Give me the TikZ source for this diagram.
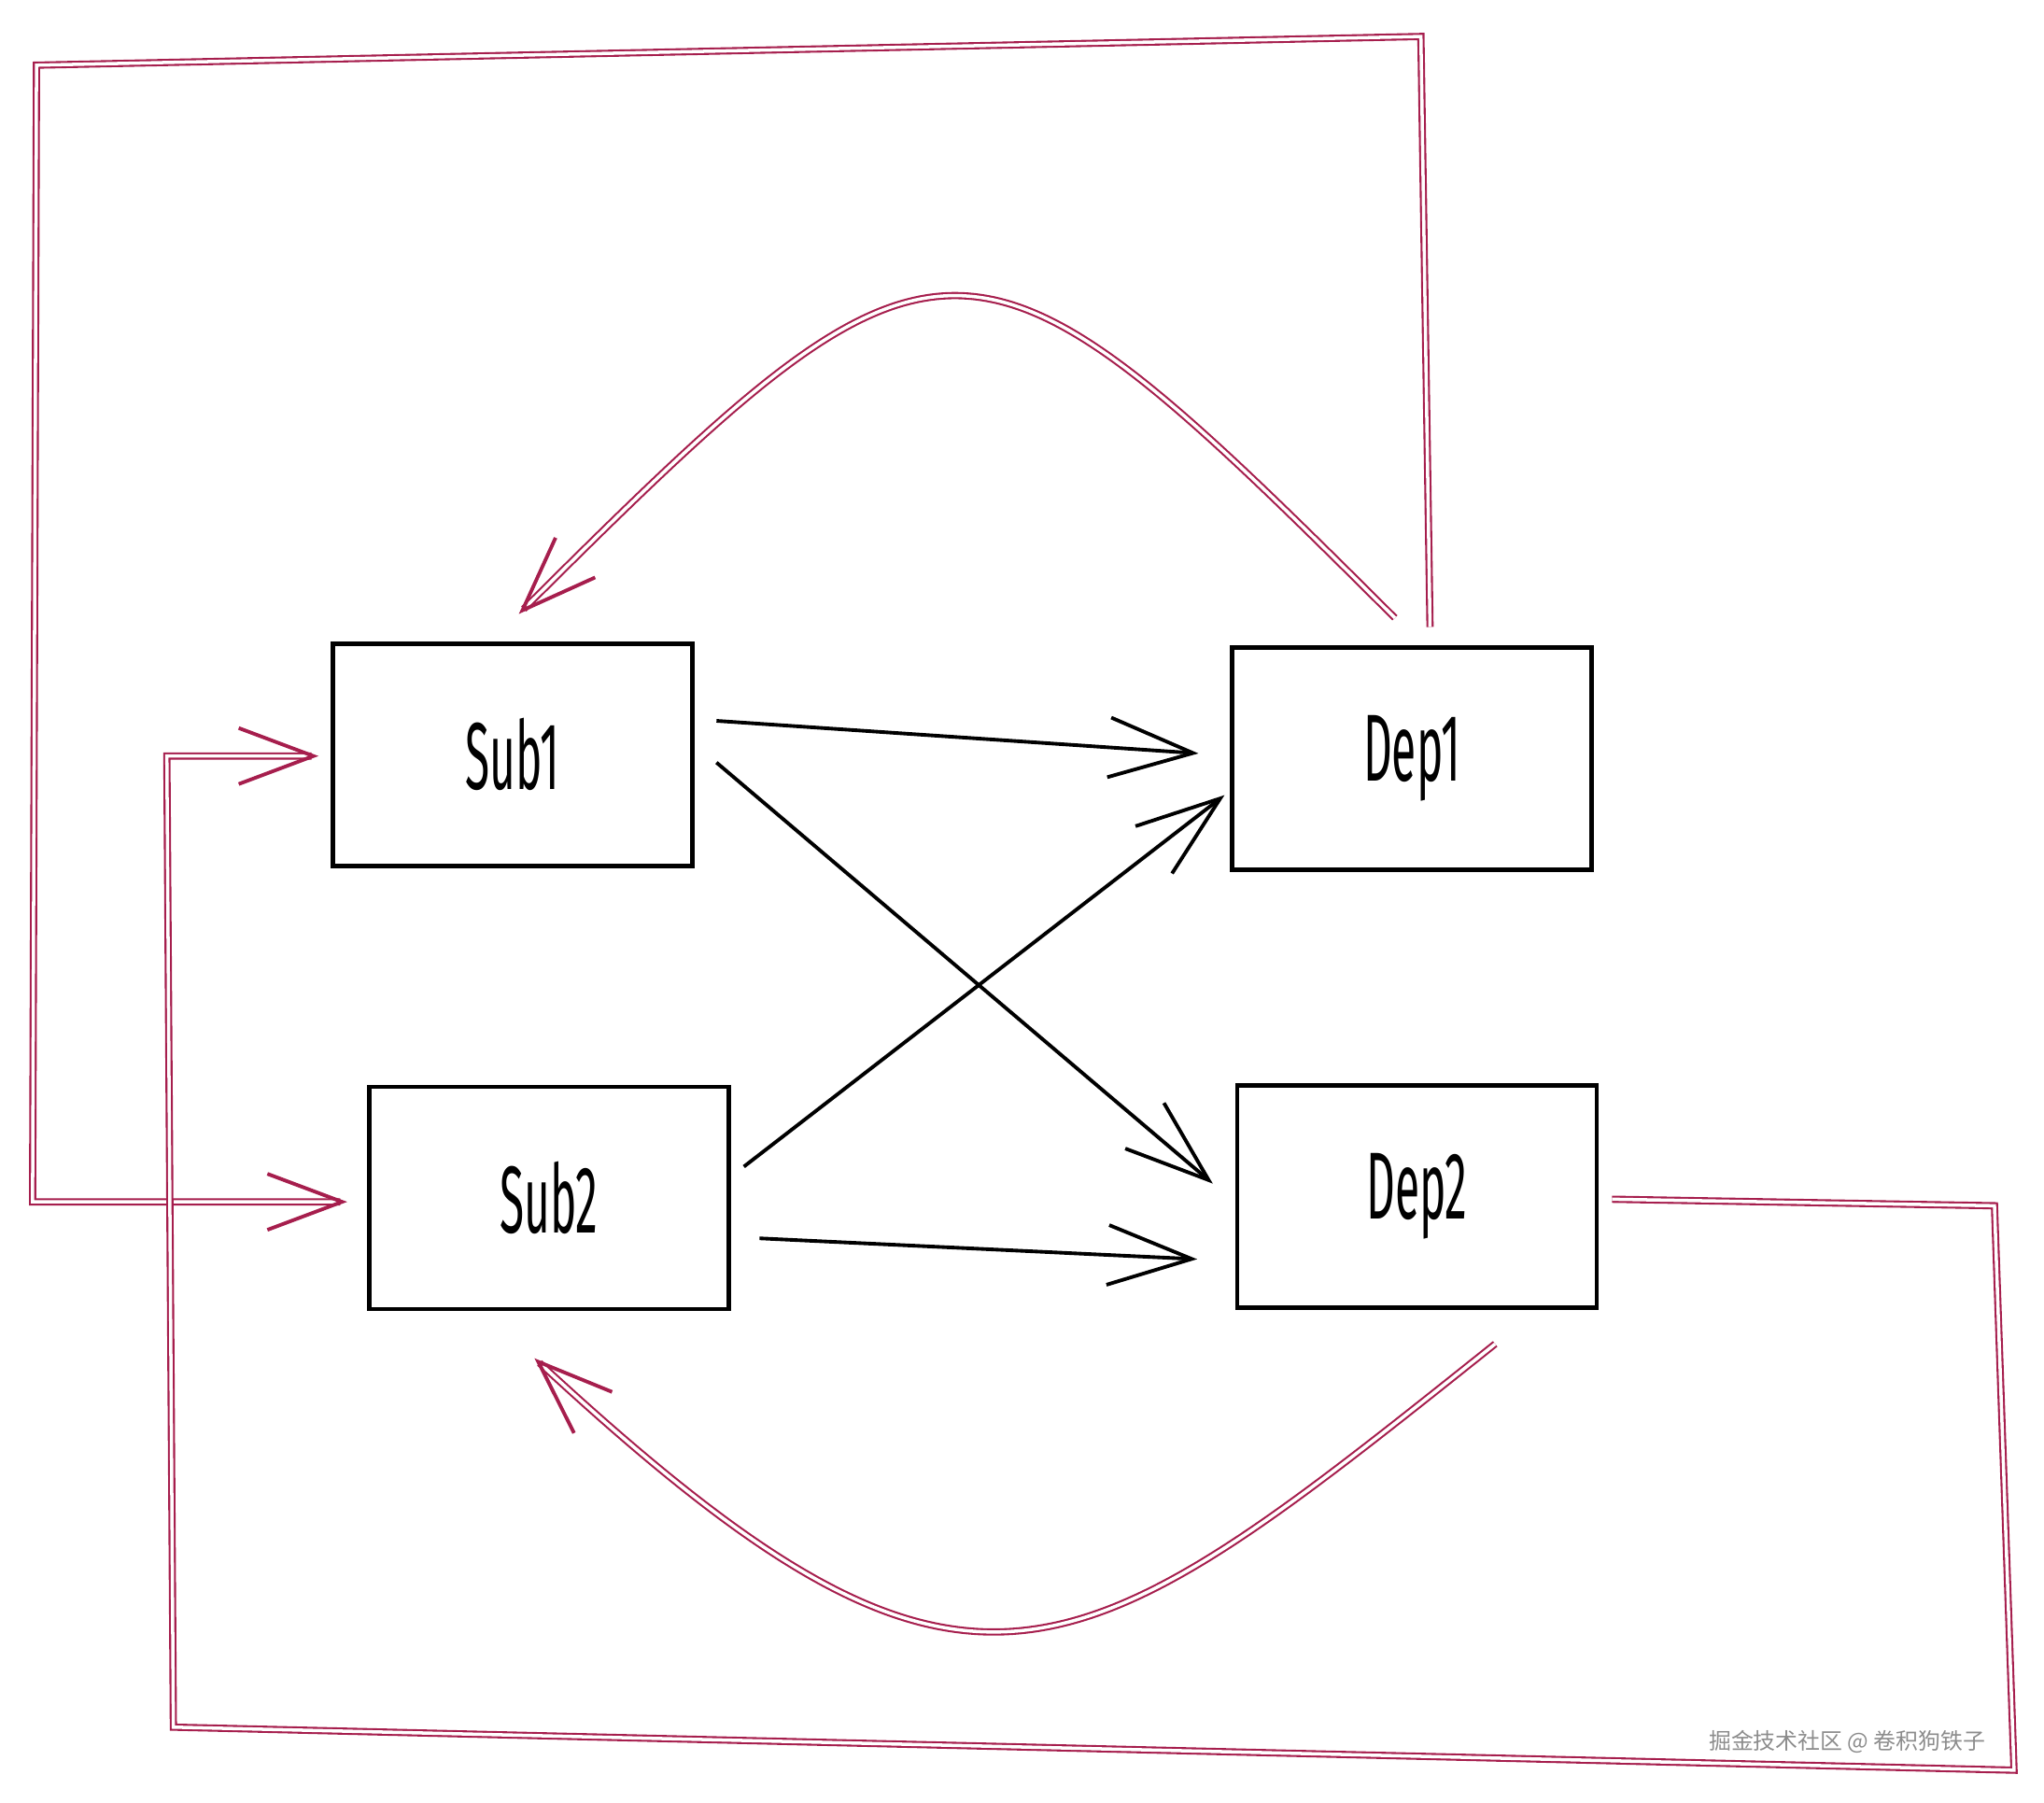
\documentclass[tikz,border=0pt]{standalone}
\usepackage{fontspec}
\newfontfamily\handfont[FakeStretch=0.47]{Fira Sans}
\newfontfamily\cjkfont{Noto Sans CJK SC}
\usetikzlibrary{arrows.meta}

\definecolor{ruby}{RGB}{166,30,77}

\tikzset{
    box/.style={draw, line width=1.4pt, minimum width=3.85cm, minimum height=2.38cm,
        font=\handfont\fontsize{29}{29}\selectfont},
    blackarrow/.style={line width=1.1pt, -{Straight Barb[length=0.9cm, width=0.64cm]}},
    redline/.style={ruby, double=white, line width=0.6pt, double distance=1pt},
    redarrow/.style={redline, -{Straight Barb[length=0.8cm, width=0.6cm, line width=1.1pt 0]}},
}

\begin{document}
\begin{tikzpicture}[x={(0.01396cm,0)},y={(0,-0.01396cm)}]

    \useasboundingbox (0,0) rectangle (1568,1383);

    %boites
    \node[box] (sub1) at (393,579) {Sub1};
    \node[box] (dep1) at (1083,582) {Dep1};
    \node[box] (sub2) at (421,919) {Sub2};
    \node[box] (dep2) at (1087,918) {Dep2};

    %fleches noires
    \draw[blackarrow] ([shift={(17,-26)}]sub1.east) -- ([shift={(-24,-4)}]dep1.west);
    \draw[blackarrow] ([shift={(17,6)}]sub1.east) -- ([shift={(-17,-10)}]dep2.west);
    \draw[blackarrow] ([shift={(10,-24)}]sub2.east) -- ([shift={(-4,28)}]dep1.west);
    \draw[blackarrow] ([shift={(22,31)}]sub2.east) -- ([shift={(-29,48)}]dep2.west);

    %arcs
    \draw[redarrow] ([shift={(-13,-21)}]dep1.north)
        .. controls (742,147) and (726,144) .. ([shift={(5,-21)}]sub1.north);
    \draw[redarrow] ([shift={(60,26)}]dep2.south)
        .. controls (820,1292) and (745,1352) .. ([shift={(-11,36)}]sub2.south);

    %boucles exterieures
    \coordinate (a1) at (1090,28);
    \coordinate (a2) at (28,50);
    \coordinate (a3) at (25,922);
    \draw[redarrow] ([shift={(14,-14)}]dep1.north) -- (a1) -- (a2) -- (a3)
        -- ([shift={(-15,3)}]sub2.west);

    \coordinate (b1) at (1530,925);
    \coordinate (b2) at (1545,1358);
    \coordinate (b3) at (133,1325);
    \coordinate (b4) at (128,580);
    \draw[redarrow] ([shift={(10,2)}]dep2.east) -- (b1) -- (b2) -- (b3) -- (b4)
        -- ([shift={(-9,1)}]sub1.west);

    %filigrane
    \node[font=\cjkfont\fontsize{6.8}{6.8}\selectfont, text=black!45] (mark) at (1417,1336)
        {掘金技术社区 @ 卷积狗铁子};

\end{tikzpicture}
\end{document}
